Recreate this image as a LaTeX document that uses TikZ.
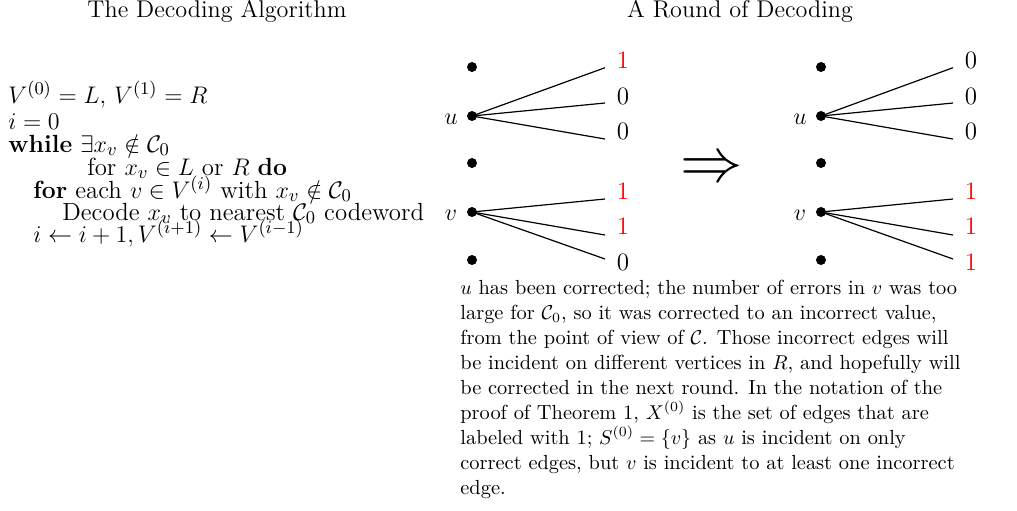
\documentclass[tikz,border=0pt]{standalone}
\usepackage{fontspec}
\usepackage{amsmath,amssymb}
\tikzset{
  px/.style={x=0.5pt,y=-0.5pt},
  algo/.style={anchor=base west, inner sep=0pt, font=\fontsize{12.4}{14}\selectfont},
  para/.style={anchor=base west, inner sep=0pt, font=\fontsize{10.2}{12}\selectfont\addfontfeature{LetterSpace=6}},
  ttl/.style={anchor=base, inner sep=0pt, font=\fontsize{12.1}{14}\selectfont\addfontfeature{LetterSpace=7}},
  vdot/.style={circle, fill=black, inner sep=0pt, minimum size=5pt},
  vlab/.style={inner sep=0pt, font=\fontsize{12.5}{14}\selectfont},
  elab/.style={inner sep=0pt, font=\fontsize{12.5}{14}\selectfont},
  bad/.style={text=red},
  edge/.style={line width=0.6pt}
}
\begin{document}
\begin{tikzpicture}[px]
\useasboundingbox (0,0) rectangle (1017,510);
% titles
\node[ttl] (t1) at (217,17) {The Decoding Algorithm};
\node[ttl] (t2) at (740,17) {A Round of Decoding};
% algorithm
\node[algo] (a1) at (8,103) {$V^{(0)}=L,\, V^{(1)}=R$};
\node[algo] (a2) at (8,129) {$i=0$};
\node[algo] (a3) at (8,152) {\textbf{while} $\exists x_v\notin\mathcal{C}_0$};
\node[algo] (a4) at (87,175) {for $x_v\in L$ or $R$ \textbf{do}};
\node[algo] (a5) at (33,198) {\textbf{for} each $v\in V^{(i)}$ with $x_v\notin\mathcal{C}_0$};
\node[algo] (a6) at (62,220) {Decode $x_v$ to nearest $\mathcal{C}_0$ codeword};
\node[algo] (a7) at (33,242) {$i\leftarrow i+1, V^{(i+1)}\leftarrow V^{(i-1)}$};
% graphs
\foreach \n/\y in {1/67,2/116,3/163,4/212,5/260}{
  \node[vdot] (L\n) at (472,\y) {};
  \node[vdot] (R\n) at (821,\y) {};
}
\node[vlab] (lu) at (451,119) {$u$};
\node[vlab] (lv) at (451,215) {$v$};
\node[vlab] (ru) at (800,119) {$u$};
\node[vlab] (rv) at (800,215) {$v$};
\foreach \k/\y in {1/67.7,2/103,3/139}{
  \coordinate (Lu\k) at (605,\y);
  \coordinate (Ru\k) at (953,\y);
  \draw[edge] (L2.center) -- (Lu\k);
  \draw[edge] (R2.center) -- (Ru\k);
}
\foreach \k/\y in {1/199,2/235,3/259}{
  \coordinate (Lv\k) at (605,\y);
  \coordinate (Rv\k) at (953,\y);
  \draw[edge] (L4.center) -- (Lv\k);
  \draw[edge] (R4.center) -- (Rv\k);
}
\node[elab,bad] (lx1) at (623,60) {1};
\node[elab] (lx2) at (623,96) {0};
\node[elab] (lx3) at (623,131) {0};
\node[elab,bad] (lx4) at (623,191) {1};
\node[elab,bad] (lx5) at (623,226) {1};
\node[elab] (lx6) at (623,262) {0};
\node[elab] (rx1) at (971,60) {0};
\node[elab] (rx2) at (971,96) {0};
\node[elab] (rx3) at (971,131) {0};
\node[elab,bad] (rx4) at (971,191) {1};
\node[elab,bad] (rx5) at (971,226) {1};
\node[elab,bad] (rx6) at (971,262) {1};
% arrow
\node[inner sep=0pt, font=\fontsize{12}{14}\selectfont, scale=2.6] (arr) at (712,170) {$\Rightarrow$};
% paragraph
\node[para] (p1) at (460,294) {$u$ has been corrected; the number of errors in $v$ was too};
\node[para] (p2) at (460,319) {large for $\mathcal{C}_0$, so it was corrected to an incorrect value,};
\node[para] (p3) at (460,344) {from the point of view of $\mathcal{C}$. Those incorrect edges will};
\node[para] (p4) at (460,369) {be incident on different vertices in $R$, and hopefully will};
\node[para] (p5) at (460,394) {be corrected in the next round. In the notation of the};
\node[para] (p6) at (460,419) {proof of Theorem 1, $X^{(0)}$ is the set of edges that are};
\node[para] (p7) at (460,444) {labeled with 1; $S^{(0)}=\{v\}$ as $u$ is incident on only};
\node[para] (p8) at (460,469) {correct edges, but $v$ is incident to at least one incorrect};
\node[para] (p9) at (460,494) {edge.};
\end{tikzpicture}
\end{document}
